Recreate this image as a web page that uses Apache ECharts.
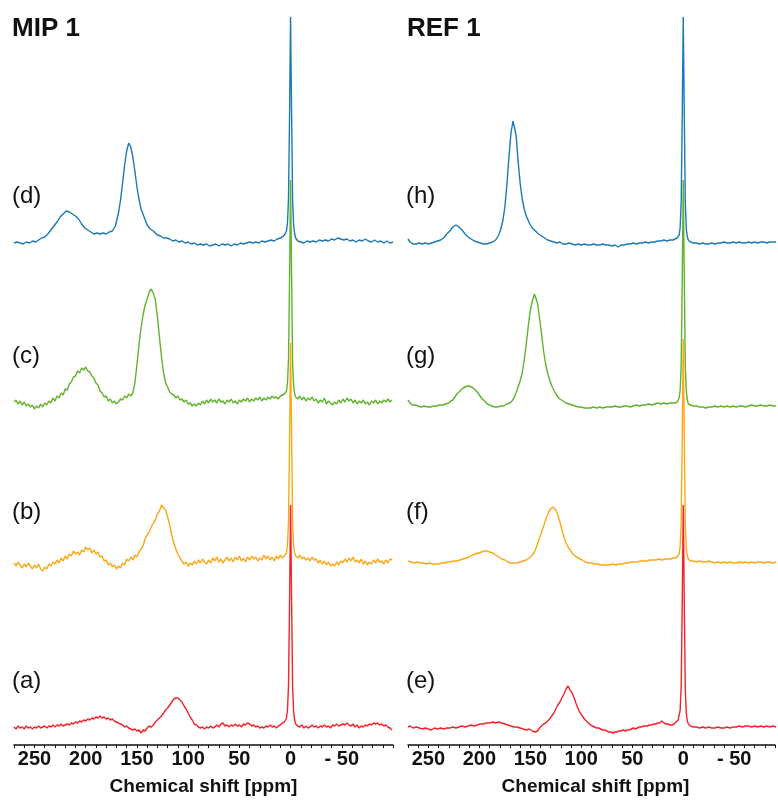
<!DOCTYPE html>
<html>
<head>
<meta charset="utf-8">
<script src="https://cdn.jsdelivr.net/npm/echarts@6/dist/echarts.min.js"></script>
<style>
html, body { margin: 0; padding: 0; background: #fff; }
#chart { width: 778px; height: 802px; }
</style>
</head>
<body>
<div id="chart"></div>
<script>
// spectra: [ppm, intensity above own baseline]
// MIP 1 panel
const specD = [[270,0],[267,1],[264,0],[261,-1],[258,1],[255,0],[252,2],[249,1],[246,3],[243,5],[240,6],[237,9],[234,13],[231,17],[228,21],[225,26],[222,29],[219,32],[216,31],[213,29],[210,27],[207,24],[204,19],[201,15],[198,13],[195,11],[192,9],[189,10],[186,9],[183,10],[180,9],[177,11],[174,12],[171,17],[168,30],[166,43],[164,60],[162,78],[160,92],[158,100],[156,96],[154,86],[152,72],[150,56],[148,44],[146,34],[143,26],[140,18],[137,14],[134,12],[130,8],[127,7],[124,5],[121,5],[118,4],[115,2],[112,3],[109,1],[106,2],[103,0],[100,1],[97,-1],[94,0],[91,-2],[88,-1],[85,-2],[82,-1],[79,-3],[76,-2],[73,-1],[70,-3],[67,-1],[64,-2],[61,-1],[58,-3],[55,-1],[52,-2],[49,0],[46,-1],[43,0],[40,1],[37,0],[34,1],[31,0],[28,2],[25,1],[22,2],[19,3],[16,2],[13,4],[10,5],[8,6],[6,8],[4,12],[3,20],[2,45],[1,125],[0,226],[-1,130],[-2,42],[-3,18],[-4,9],[-5,5],[-7,2],[-10,1],[-13,0],[-16,2],[-19,1],[-22,2],[-25,1],[-28,3],[-31,2],[-34,3],[-37,2],[-40,4],[-43,3],[-46,5],[-49,4],[-52,3],[-55,4],[-58,2],[-61,3],[-64,1],[-67,3],[-70,2],[-73,4],[-76,2],[-79,1],[-82,3],[-85,1],[-88,2],[-91,0],[-94,2],[-97,0],[-100,1]];

const specC = [[270,1],[268,3],[266,-1],[264,2],[262,-2],[260,1],[258,-3],[256,-1],[254,-4],[252,-2],[250,-6],[248,-3],[246,-5],[244,-1],[242,-4],[240,0],[238,-2],[236,2],[234,0],[232,5],[230,2],[228,7],[226,5],[224,10],[222,8],[220,14],[218,13],[216,19],[214,21],[212,26],[210,27],[208,32],[206,30],[204,35],[202,33],[200,36],[198,32],[196,31],[194,27],[192,25],[190,20],[188,18],[186,12],[184,10],[182,6],[180,7],[178,2],[176,4],[174,0],[172,2],[170,-1],[168,1],[166,4],[164,3],[162,7],[160,5],[158,9],[156,7],[154,10],[152,20],[150,38],[148,58],[146,75],[144,88],[142,98],[140,104],[138,111],[136,114],[134,110],[132,103],[130,86],[128,66],[126,46],[124,30],[122,20],[120,16],[118,11],[116,9],[114,8],[112,5],[110,7],[108,3],[106,4],[104,1],[102,3],[100,-1],[98,0],[96,-3],[94,-1],[92,-3],[90,0],[88,-2],[86,2],[84,-1],[82,3],[80,0],[78,4],[76,1],[74,3],[72,0],[70,4],[68,1],[66,2],[64,-1],[62,3],[60,1],[58,4],[56,0],[54,2],[52,-1],[50,3],[48,1],[46,4],[44,2],[42,5],[40,1],[38,4],[36,2],[34,5],[32,3],[30,6],[28,2],[26,5],[24,3],[22,6],[20,4],[18,7],[16,5],[14,6],[12,4],[10,7],[8,8],[6,9],[4,12],[3,20],[2,44],[1,122],[0,223],[-1,128],[-2,40],[-3,17],[-4,9],[-5,6],[-7,4],[-9,7],[-11,3],[-13,6],[-15,2],[-17,5],[-19,3],[-21,6],[-23,2],[-25,4],[-27,0],[-29,3],[-31,1],[-33,5],[-35,-1],[-37,2],[-39,0],[-41,-2],[-43,1],[-45,-1],[-47,3],[-49,0],[-51,4],[-53,1],[-55,5],[-57,2],[-59,4],[-61,0],[-63,3],[-65,-1],[-67,2],[-69,0],[-71,3],[-73,-1],[-75,1],[-77,-2],[-79,2],[-81,0],[-83,3],[-85,-1],[-87,2],[-89,0],[-91,3],[-93,1],[-95,4],[-97,1],[-99,3]];

const specB = [[270,0],[268,-3],[266,1],[264,-2],[262,-5],[260,-1],[258,-4],[256,0],[254,-3],[252,-6],[250,-2],[248,-5],[246,-1],[244,-6],[242,-8],[240,-4],[238,-6],[236,-1],[234,-3],[232,1],[230,-1],[228,3],[226,0],[224,5],[222,2],[220,7],[218,4],[216,9],[214,7],[212,12],[210,9],[208,11],[206,8],[204,13],[202,11],[200,16],[198,13],[196,15],[194,10],[192,13],[190,9],[188,11],[186,6],[184,7],[182,2],[180,3],[178,-2],[176,0],[174,-4],[172,-2],[170,-6],[168,-3],[166,-5],[164,0],[162,-2],[160,4],[158,2],[156,6],[154,3],[152,8],[150,6],[148,11],[146,14],[144,17],[142,24],[140,28],[138,31],[136,36],[134,40],[132,43],[130,49],[128,52],[126,58],[125,60],[124,55],[122,53],[120,46],[118,38],[116,28],[114,20],[112,14],[110,9],[108,5],[106,2],[104,-1],[102,1],[100,-3],[98,0],[96,-2],[94,2],[92,-1],[90,3],[88,0],[86,4],[84,1],[82,-1],[80,3],[78,0],[76,5],[74,2],[72,6],[70,1],[68,4],[66,0],[64,3],[62,6],[60,2],[58,5],[56,1],[54,6],[52,3],[50,7],[48,2],[46,5],[44,1],[42,6],[40,3],[38,7],[36,4],[34,6],[32,2],[30,5],[28,3],[26,8],[24,4],[22,7],[20,3],[18,6],[16,2],[14,7],[12,4],[10,8],[8,5],[6,7],[4,10],[3,18],[2,42],[1,120],[0,220],[-1,126],[-2,40],[-3,17],[-4,10],[-5,7],[-7,5],[-9,8],[-11,4],[-13,6],[-15,3],[-17,5],[-19,2],[-21,6],[-23,3],[-25,4],[-27,0],[-29,3],[-31,-1],[-33,2],[-35,-2],[-37,1],[-39,-3],[-41,-1],[-43,-3],[-45,1],[-47,-2],[-49,2],[-51,0],[-53,4],[-55,1],[-57,5],[-59,2],[-61,6],[-63,1],[-65,3],[-67,0],[-69,4],[-71,-1],[-73,2],[-75,-2],[-77,1],[-79,-1],[-81,3],[-83,0],[-85,4],[-87,1],[-89,2],[-91,-1],[-93,3],[-95,0],[-97,4],[-99,3]];

const specA = [[270,0],[268,-2],[266,1],[264,-1],[262,0],[260,-2],[258,1],[256,-1],[254,0],[252,-2],[250,0],[248,-1],[246,1],[244,-1],[242,0],[240,1],[238,-1],[236,1],[234,0],[232,2],[230,0],[228,2],[226,1],[224,3],[222,1],[220,2],[218,3],[216,2],[214,4],[212,3],[210,5],[208,4],[206,6],[204,5],[202,7],[200,6],[198,8],[196,7],[194,9],[192,8],[190,10],[188,9],[186,11],[184,9],[182,10],[180,8],[178,9],[176,7],[174,8],[172,6],[170,5],[168,4],[166,3],[164,2],[162,0],[160,1],[158,-1],[156,-2],[154,-3],[152,-2],[150,-4],[148,-3],[146,-6],[144,-3],[142,-4],[140,-1],[138,1],[136,0],[134,2],[132,5],[130,7],[128,9],[126,11],[124,14],[122,17],[120,19],[118,22],[116,25],[114,28],[112,29],[111,31],[110,29],[108,27],[106,25],[104,21],[102,18],[100,14],[98,10],[96,7],[94,3],[92,2],[90,0],[88,-1],[86,0],[84,-2],[82,0],[80,-1],[78,1],[76,-1],[74,0],[72,2],[70,0],[68,3],[66,4],[64,1],[62,2],[60,0],[58,2],[56,1],[54,3],[52,1],[50,2],[48,0],[46,3],[44,2],[42,4],[40,3],[38,1],[36,2],[34,0],[32,1],[30,-1],[28,0],[26,-1],[24,1],[22,0],[20,2],[18,0],[16,1],[14,-1],[12,1],[10,2],[8,4],[6,5],[4,9],[3,17],[2,42],[1,122],[0,222],[-1,126],[-2,40],[-3,15],[-4,7],[-5,3],[-7,1],[-9,0],[-11,2],[-13,-1],[-15,1],[-17,-1],[-19,0],[-21,2],[-23,0],[-25,1],[-27,-1],[-29,1],[-31,0],[-33,2],[-35,0],[-37,1],[-39,-1],[-41,2],[-43,1],[-45,3],[-47,1],[-49,2],[-51,3],[-53,2],[-55,4],[-57,2],[-59,1],[-61,3],[-63,0],[-65,2],[-67,-1],[-69,1],[-71,0],[-73,2],[-75,1],[-77,3],[-79,2],[-81,4],[-83,3],[-85,4],[-87,2],[-89,3],[-91,1],[-93,2],[-95,0],[-97,-1],[-99,-3]];

// REF 1 panel
const specH = [[270,4],[268,1],[265,-1],[262,-1],[259,0],[256,-1],[253,0],[250,-1],[247,0],[244,1],[241,2],[238,3],[235,5],[232,9],[229,12],[226,16],[223,18],[220,16],[217,13],[214,9],[211,6],[208,4],[205,2],[202,1],[199,0],[196,-1],[193,-1],[190,0],[187,1],[184,3],[181,8],[179,14],[177,22],[175,36],[173,58],[171,86],[169,110],[167,122],[166,120],[164,108],[162,82],[160,60],[158,44],[156,34],[154,27],[151,20],[148,15],[145,12],[142,9],[139,7],[136,5],[133,3],[130,2],[127,1],[124,0],[121,1],[118,-1],[115,-1],[112,0],[109,-1],[106,-2],[103,-1],[100,-2],[97,-1],[94,-2],[91,-2],[88,-1],[85,-2],[82,-2],[79,-1],[76,-2],[73,-2],[70,-3],[67,-2],[64,-4],[61,-2],[58,-2],[55,-1],[52,-1],[49,0],[46,-1],[43,0],[40,0],[37,1],[34,0],[31,1],[28,1],[25,2],[22,2],[19,3],[16,2],[13,3],[10,3],[8,4],[6,5],[4,8],[3,16],[2,42],[1,125],[0,226],[-1,130],[-2,40],[-3,14],[-4,6],[-5,3],[-7,1],[-10,0],[-13,0],[-16,-1],[-19,0],[-22,-1],[-25,-1],[-28,0],[-31,-1],[-34,0],[-37,0],[-40,1],[-43,0],[-46,0],[-49,1],[-52,0],[-55,1],[-58,0],[-61,0],[-64,1],[-67,0],[-70,1],[-73,0],[-76,1],[-79,1],[-82,0],[-85,1],[-88,1],[-91,1]];

const specG = [[270,6],[268,3],[266,1],[263,1],[260,0],[257,-1],[254,0],[251,-1],[248,-1],[245,0],[242,0],[239,1],[236,1],[233,2],[230,3],[228,5],[226,6],[224,9],[222,12],[220,14],[218,16],[216,18],[214,19],[212,20],[210,20],[208,19],[206,18],[204,16],[202,14],[200,11],[198,8],[196,6],[194,4],[192,2],[190,1],[188,0],[185,-1],[182,-1],[179,0],[176,0],[173,2],[170,3],[168,5],[166,8],[164,13],[162,19],[160,25],[158,33],[156,46],[154,62],[152,80],[150,96],[148,105],[146,112],[145,111],[143,103],[141,88],[139,72],[137,55],[135,42],[133,33],[131,26],[129,20],[127,16],[125,12],[123,9],[121,7],[118,5],[115,3],[112,2],[109,1],[106,0],[103,-1],[100,-1],[97,-2],[94,-2],[91,-2],[88,-1],[85,-2],[82,-1],[79,-2],[76,-1],[73,-1],[70,-1],[67,0],[64,-1],[61,-1],[58,0],[55,0],[52,-1],[49,0],[46,1],[43,0],[40,1],[37,1],[34,2],[31,1],[28,2],[25,3],[22,2],[19,3],[16,2],[13,3],[10,3],[8,3],[6,4],[4,8],[3,16],[2,42],[1,125],[0,226],[-1,128],[-2,40],[-3,15],[-4,6],[-5,2],[-7,1],[-10,0],[-13,0],[-16,-1],[-19,-1],[-22,-2],[-25,-1],[-28,-1],[-31,0],[-34,-1],[-37,0],[-40,-1],[-43,0],[-46,-1],[-49,0],[-52,-1],[-55,0],[-58,0],[-61,-1],[-64,0],[-67,1],[-70,0],[-73,0],[-76,1],[-79,0],[-82,0],[-85,1],[-88,0],[-91,0]];

const specF = [[270,2],[267,1],[264,0],[261,1],[258,0],[255,0],[252,-1],[249,0],[246,-1],[243,-1],[240,-1],[237,0],[234,0],[231,1],[228,1],[225,2],[222,2],[219,3],[216,4],[213,5],[210,6],[207,8],[204,9],[201,10],[198,11],[195,12],[193,12],[190,11],[187,10],[184,8],[181,6],[178,4],[175,3],[172,1],[169,0],[166,0],[163,0],[160,1],[157,2],[154,3],[151,5],[148,8],[146,11],[144,16],[142,22],[140,28],[138,34],[136,40],[134,46],[132,51],[130,54],[128,56],[127,56],[125,53],[123,48],[121,41],[119,33],[117,26],[115,20],[113,16],[111,13],[109,10],[107,8],[105,6],[103,5],[101,4],[99,3],[96,1],[93,0],[90,0],[87,-1],[84,-1],[81,-2],[78,-2],[75,-2],[72,-2],[69,-1],[66,-2],[63,-1],[60,-1],[57,0],[54,0],[51,1],[48,1],[45,1],[42,2],[39,2],[36,2],[33,3],[30,3],[27,3],[24,4],[21,3],[18,4],[15,4],[12,4],[10,5],[8,5],[6,6],[4,9],[3,17],[2,42],[1,124],[0,224],[-1,128],[-2,40],[-3,15],[-4,7],[-5,4],[-7,2],[-10,2],[-13,1],[-16,2],[-19,1],[-22,1],[-25,2],[-28,1],[-31,0],[-34,1],[-37,0],[-40,1],[-43,0],[-46,1],[-49,0],[-52,0],[-55,1],[-58,0],[-61,1],[-64,0],[-67,1],[-70,0],[-73,1],[-76,1],[-79,0],[-82,1],[-85,1],[-88,0],[-91,1]];

const specE = [[270,0],[268,1],[265,-1],[262,0],[259,-1],[256,-2],[253,-1],[250,-2],[247,-3],[244,-1],[241,-2],[238,-1],[235,-2],[232,-1],[229,-1],[226,0],[223,-1],[220,0],[217,1],[214,0],[211,1],[208,2],[205,1],[202,2],[199,3],[196,3],[193,4],[190,4],[187,5],[184,4],[181,5],[178,4],[175,3],[172,2],[169,1],[166,0],[163,0],[160,-1],[157,-2],[154,-3],[151,-2],[148,-4],[145,-5],[143,-4],[141,-1],[139,1],[137,3],[135,4],[133,6],[131,8],[129,11],[127,14],[125,18],[123,22],[121,25],[119,29],[117,33],[115,38],[113,41],[111,37],[109,34],[107,29],[105,23],[103,18],[101,14],[99,11],[97,8],[95,6],[93,4],[91,2],[89,1],[87,0],[85,-1],[83,-1],[81,-2],[79,-3],[77,-3],[75,-4],[73,-5],[71,-5],[69,-6],[67,-5],[65,-5],[63,-4],[61,-4],[59,-3],[57,-4],[55,-3],[53,-3],[51,-2],[49,-1],[47,-2],[45,-1],[43,0],[41,0],[39,1],[37,1],[35,1],[33,2],[31,2],[29,3],[27,3],[25,4],[23,4],[21,6],[19,4],[17,3],[15,3],[13,2],[11,2],[9,3],[7,5],[5,7],[4,9],[3,17],[2,42],[1,122],[0,222],[-1,126],[-2,38],[-3,14],[-4,6],[-5,3],[-7,1],[-10,0],[-13,0],[-16,-1],[-19,0],[-22,-1],[-25,0],[-28,-1],[-31,-1],[-34,0],[-37,-1],[-40,-1],[-43,0],[-46,-1],[-49,0],[-52,0],[-55,1],[-58,0],[-61,1],[-64,1],[-67,0],[-70,1],[-73,0],[-76,1],[-79,0],[-82,1],[-85,0],[-88,1],[-91,0]];

const panelTitles = ['MIP 1', 'REF 1'];
const traceLabels = [['(a)', '(b)', '(c)', '(d)'], ['(e)', '(f)', '(g)', '(h)']];
const axisName = 'Chemical shift [ppm]';

// stacking offsets (bottom trace first) and colours
const offsetsLeft = [0, 164, 324, 484];
const offsetsRight = [0, 164, 321, 484];
const colors = ['#f5222b', '#fba818', '#62b22d', '#1b79b6'];
const font = '"Liberation Sans", Arial, Helvetica, sans-serif';

function shift(points, off) {
  return points.map(function (p) { return [p[0], p[1] + off]; });
}

// right panel is cut by the page edge a little after -90 ppm
function makeXAxis(idx, minPpm, namePad) {
  return {
    gridIndex: idx,
    type: 'value',
    inverse: true,
    min: minPpm,
    max: 270,
    interval: 10,
    name: axisName,
    nameLocation: 'middle',
    nameGap: 32,
    nameTextStyle: { fontFamily: font, fontSize: 19, fontWeight: 'bold', color: '#111', padding: namePad },
    axisLine: { onZero: false, lineStyle: { color: '#111', width: 1.5 } },
    axisTick: { length: 3, lineStyle: { color: '#111', width: 1 } },
    splitLine: { show: false },
    axisLabel: {
      margin: 4,
      fontFamily: font,
      fontSize: 20,
      fontWeight: 'bold',
      color: '#111',
      formatter: function (v) {
        if (v % 50 !== 0 || v <= -100 || v > 250) return '';
        return v < 0 ? '- ' + (-v) : String(v);
      }
    }
  };
}

function makeYAxis(idx) {
  return { gridIndex: idx, type: 'value', min: -18, max: 717, show: false };
}

const left = [specA, specB, specC, specD];
const right = [specE, specF, specG, specH];

const series = [];
// top trace first so the lower traces are painted over it
for (let i = 3; i >= 0; i--) {
  series.push({
    type: 'line', xAxisIndex: 0, yAxisIndex: 0, showSymbol: false,
    lineStyle: { color: colors[i], width: 1.4 },
    data: shift(left[i], offsetsLeft[i])
  });
  series.push({
    type: 'line', xAxisIndex: 1, yAxisIndex: 1, showSymbol: false,
    lineStyle: { color: colors[i], width: 1.4 },
    data: shift(right[i], offsetsRight[i])
  });
}

const labelTops = [670, 501, 345, 185];
const graphic = [
  { type: 'text', left: 12, top: 16, style: { text: panelTitles[0], font: 'bold 26px ' + font, fill: '#111' } },
  { type: 'text', left: 407, top: 16, style: { text: panelTitles[1], font: 'bold 26px ' + font, fill: '#111' } }
];
for (let i = 0; i < 4; i++) {
  graphic.push({ type: 'text', left: 12, top: labelTops[i] - 1, style: { text: traceLabels[0][i], font: '24px ' + font, fill: '#111' } });
  graphic.push({ type: 'text', left: 406, top: labelTops[i] - 1, style: { text: traceLabels[1][i], font: '24px ' + font, fill: '#111' } });
}

const chart = echarts.init(document.getElementById('chart'), null, { renderer: 'canvas' });
chart.setOption({
  animation: false,
  backgroundColor: '#fff',
  grid: [
    { left: 14, width: 379, top: 10, bottom: 57 },
    { left: 408, width: 369, top: 10, bottom: 57 }
  ],
  xAxis: [makeXAxis(0, -100, 0), makeXAxis(1, -90, [0, 0, 0, 8])],
  yAxis: [makeYAxis(0), makeYAxis(1)],
  graphic: graphic,
  series: series
});
</script>
</body>
</html>
